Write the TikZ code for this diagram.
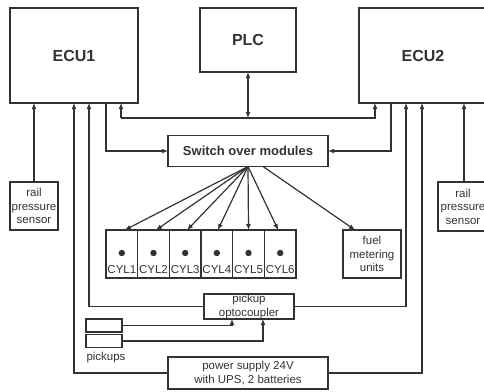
\documentclass[tikz,border=0pt]{standalone}
\usepackage{fontspec}
\setmainfont{Liberation Sans}
\usetikzlibrary{arrows.meta,calc}
\definecolor{ink}{HTML}{333333}
\tikzset{
  box/.style={draw=ink, line width=1.2pt, inner sep=0pt, outer sep=0pt, fill=white,
              text=ink, align=center},
  big/.style={font=\fontsize{16}{18}\selectfont\bfseries},
  mid/.style={font=\fontsize{13}{15}\selectfont\bfseries},
  small/.style={font=\fontsize{11.5}{13.5}\selectfont},
  wire/.style={draw=ink, line width=1.2pt},
  arr/.style={wire, -{Latex[length=6pt,width=5pt]}},
  darr/.style={wire, {Latex[length=6pt,width=5pt]}-{Latex[length=6pt,width=5pt]}},
}
\begin{document}
\begin{tikzpicture}[x=1pt,y=-1pt]
\useasboundingbox (0,0) rectangle (484,391);
\clip (0,0) rectangle (484,391);

% main units
\node[box,big,minimum width=128,minimum height=95] (ecu1) at (74,55.5) {ECU1};
\node[box,big,minimum width=96,minimum height=64]  (plc)  at (248,40) {PLC};
\node[box,minimum width=130,minimum height=95] (ecu2) at (424,55.5) {};
\node[big,text=ink] at (423,55.5) {ECU2};
\node[box,mid,minimum width=160,minimum height=31] (sw)   at (248,151) {Switch over modules};

% sensors
\node[box,small,minimum width=48,minimum height=48] (rail1) at (34,206) {rail\\pressure\\sensor};
\node[box,small,minimum width=50,minimum height=49] (rail2) at (463,206.5) {rail\\pressure\\sensor};

% cylinders
\foreach \i in {1,...,6}{
  \node[box,minimum width=31.67,minimum height=48] (cyl\i) at ({106+31.67*(\i-0.5)},254) {};
  \fill[ink] ($(cyl\i.center)+(0,-1)$) circle (3.2);
  \node[small,text=ink,inner sep=0pt] at ($(cyl\i.center)+(0,16)$) {CYL\i};
}
\node[box,small,minimum width=58,minimum height=48] (fuel) at (372,254) {fuel\\metering\\units};

% lower blocks
\node[box,small,minimum width=90,minimum height=25] (opto) at (249,306.5) {pickup\\optocoupler};
\node[box,minimum width=36,minimum height=13] (pu1) at (104,325.5) {};
\node[box,minimum width=36,minimum height=13] (pu2) at (104,341) {};
\node[small,text=ink,inner sep=0pt] (pulbl) at (106,358) {pickups};
\node[box,small,minimum width=160,minimum height=32] (pwr) at (248,373) {power supply 24V\\with UPS, 2 batteries};

% PLC bus
\coordinate (busL) at (121,118);
\coordinate (busR) at (375,118);
\draw[darr] (plc.south) -- (plc.south |- busL);
\draw[arr] (busL) -- (busR) -- (busR |- ecu2.south);
\draw[arr] (busL) -- (busL |- ecu1.south);

% ECUs to switch-over modules
\draw[arr] (ecu1.south -| 106,0) |- (sw.west);
\draw[arr] (ecu2.south -| 391,0) |- (sw.east);

% switch-over modules to injectors and metering units
\foreach \i/\dx in {1/3,2/2.5,3/2,4/1,5/0,6/-2}{
  \draw[arr] (sw.south) -- ($(cyl\i.north)+(\dx,0)$);
}
\draw[arr] ($(sw.south)+(15,0)$) -- ($(fuel.north)+(-17,0)$);

% sensor inputs
\draw[arr] (rail1.north) -- (rail1.north |- ecu1.south);
\draw[arr] (rail2.north -| 464,0) -- (ecu2.south -| 464,0);

% optocoupler outputs
\draw[arr] (opto.west) -| (ecu1.south -| 89,0);
\draw[arr] (opto.east) -| (ecu2.south -| 406,0);

% pickups into optocoupler
\draw[arr] (pu1.east) -| (opto.south -| 232,0);
\draw[arr] (pu2.east) -| (opto.south -| 263,0);

% power supply
\draw[arr] (pwr.west) -| (ecu1.south -| 74,0);
\draw[arr] (pwr.east) -| (ecu2.south -| 422,0);
\end{tikzpicture}
\end{document}
